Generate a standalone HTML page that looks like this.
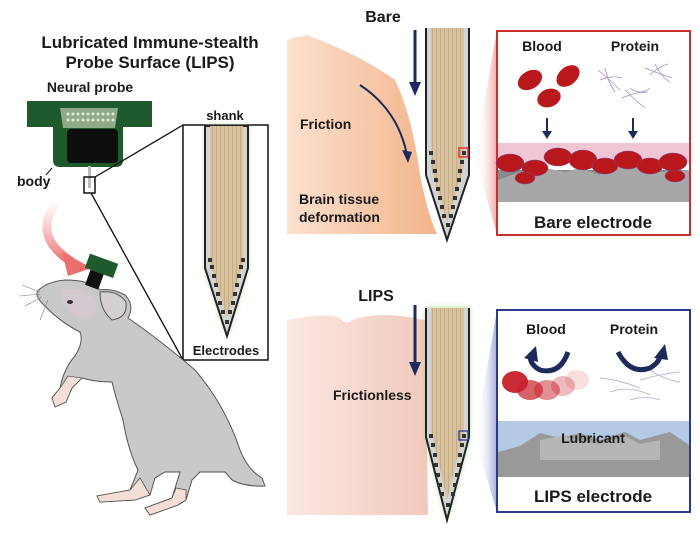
<!DOCTYPE html>
<html><head><meta charset="utf-8"><style>
html,body{margin:0;padding:0;background:#fff}
svg{display:block}
text{font-family:"Liberation Sans",Arial,sans-serif;font-weight:bold;fill:#1a1a1a}
</style></head><body>
<svg width="700" height="535" viewBox="0 0 700 535" xmlns="http://www.w3.org/2000/svg">
<defs>
<linearGradient id="peach" x1="0" x2="1" y1="0" y2="0">
<stop offset="0" stop-color="#fbe1cf"/><stop offset="1" stop-color="#f2b48a"/></linearGradient>
<linearGradient id="pink" x1="0" x2="1" y1="0" y2="0">
<stop offset="0" stop-color="#fbe8e2"/><stop offset="1" stop-color="#f1c9bb"/></linearGradient>
<linearGradient id="redw" x1="0" x2="1"><stop offset="0" stop-color="#fff" stop-opacity="0"/><stop offset="1" stop-color="#e04a4a" stop-opacity=".8"/></linearGradient>
<linearGradient id="bluew" x1="0" x2="1"><stop offset="0" stop-color="#fff" stop-opacity="0"/><stop offset="1" stop-color="#4a56b0" stop-opacity=".85"/></linearGradient>
<linearGradient id="rarrow" x1="0" y1="0" x2="0" y2="1"><stop offset="0" stop-color="#f6a3a3" stop-opacity="0"/><stop offset="1" stop-color="#ec6f6f"/></linearGradient>
<pattern id="stripes" width="4" height="10" patternUnits="userSpaceOnUse"><rect width="4" height="10" fill="#d6c29f"/><rect width="1" height="10" fill="#c4ad86"/></pattern>
<filter id="glow"><feGaussianBlur stdDeviation="3"/></filter>
</defs>

<text x="150" y="48" font-size="17" text-anchor="middle">Lubricated Immune-stealth</text>
<text x="150" y="68" font-size="17" text-anchor="middle">Probe Surface (LIPS)</text>
<text x="90" y="92" font-size="14" text-anchor="middle">Neural probe</text>

<rect x="27" y="101" width="125" height="26" fill="#1f5a2c"/>
<path d="M53 127 H123 V160 Q123 167 116 167 H60 Q53 167 53 160 Z" fill="#1f5a2c"/>
<rect x="67" y="129" width="51" height="34" rx="4" fill="#0d0d0d"/>
<path d="M60 108 H118 L115 128 H63 Z" fill="#8eaa86"/>
<g fill="#dfe8da">
<circle cx="68" cy="114" r="1.5"/><circle cx="73" cy="114" r="1.5"/><circle cx="78" cy="114" r="1.5"/><circle cx="83" cy="114" r="1.5"/><circle cx="88" cy="114" r="1.5"/><circle cx="93" cy="114" r="1.5"/><circle cx="98" cy="114" r="1.5"/><circle cx="103" cy="114" r="1.5"/><circle cx="108" cy="114" r="1.5"/><circle cx="113" cy="114" r="1.5"/>
<circle cx="68" cy="120" r="1.5"/><circle cx="73" cy="120" r="1.5"/><circle cx="78" cy="120" r="1.5"/><circle cx="83" cy="120" r="1.5"/><circle cx="88" cy="120" r="1.5"/><circle cx="93" cy="120" r="1.5"/><circle cx="98" cy="120" r="1.5"/><circle cx="103" cy="120" r="1.5"/><circle cx="108" cy="120" r="1.5"/><circle cx="113" cy="120" r="1.5"/>
</g>
<rect x="88" y="166" width="3" height="22" fill="#bbb"/>
<rect x="84" y="177" width="11" height="16" fill="none" stroke="#111" stroke-width="1.5"/>
<text x="17" y="186" font-size="14">body</text>
<line x1="52" y1="168" x2="46" y2="175" stroke="#111" stroke-width="1"/>
<line x1="95" y1="177" x2="183" y2="125" stroke="#111" stroke-width="1.3"/>
<line x1="91" y1="193" x2="183" y2="360" stroke="#111" stroke-width="1.3"/>

<rect x="183" y="125" width="85" height="235" fill="#fff" stroke="#111" stroke-width="1.5"/>
<text x="225" y="120" font-size="13" text-anchor="middle">shank</text>
<path d="M205 126 V268 L227 336 L248 268 V126 Z" fill="#b9dca0" filter="url(#glow)"/>
<path d="M205 126 V268 L227 336 L248 268 V126 Z" fill="#d4d4d4" stroke="#222" stroke-width="2"/>
<path d="M210 126 V262 L227 318 L243 262 V126 Z" fill="url(#stripes)"/>
<g fill="#333">
<rect x="208" y="258" width="4" height="4"/><rect x="241" y="258" width="4" height="4"/>
<rect x="210" y="265" width="4" height="4"/><rect x="239" y="265" width="4" height="4"/>
<rect x="212" y="274" width="4" height="4"/><rect x="237" y="274" width="4" height="4"/>
<rect x="214" y="283" width="4" height="4"/><rect x="235" y="283" width="4" height="4"/>
<rect x="216" y="292" width="4" height="4"/><rect x="233" y="292" width="4" height="4"/>
<rect x="218" y="301" width="4" height="4"/><rect x="231" y="301" width="4" height="4"/>
<rect x="221" y="310" width="4" height="4"/><rect x="228" y="310" width="4" height="4"/>
<rect x="225" y="320" width="4" height="4"/>
</g>
<text x="226" y="355" font-size="13" text-anchor="middle">Electrodes</text>

<path d="M58 200 Q30 235 72 262" fill="none" stroke="url(#rarrow)" stroke-width="9"/>
<path d="M62 252 L92 268 L68 276 Z" fill="#ec6f6f"/>

<!-- Mouse -->
<path d="M37 292 Q45 282 65 280 Q90 280 100 290 Q112 288 125 295 Q135 305 128 318 Q160 340 195 370 Q225 405 240 450 Q248 470 262 478 L265 486 Q245 487 232 480 L225 472 L200 472 L192 480 L186 500 L178 505 L150 515 L145 508 L172 498 L180 472 L165 472 L155 478 L150 495 L135 500 L100 502 L97 496 L130 490 L138 470 Q128 450 123 420 Q115 395 112 382 Q95 382 82 378 L72 388 L66 402 L55 407 L52 398 L60 388 Q64 368 75 356 Q84 342 80 332 Q60 322 45 306 Q36 298 37 292 Z" fill="#c9c9c9" stroke="#555" stroke-width="1"/>
<path d="M100 292 Q118 290 126 302 Q128 318 112 320 Q100 310 100 292 Z" fill="#d4d0d2" stroke="#555" stroke-width="1"/>
<path d="M62 290 Q80 286 95 298 Q100 315 88 320 Q70 318 62 300 Z" fill="#d8c9d3" opacity=".8"/>
<ellipse cx="70" cy="302" rx="3" ry="2" fill="#333"/>
<path d="M150 495 L135 500 L100 502 L97 496 L130 490 L140 478 Z" fill="#f4dfd6" stroke="#555" stroke-width=".8"/>
<path d="M186 490 L186 500 L178 505 L150 515 L145 508 L172 498 L176 488 Z" fill="#f4dfd6" stroke="#555" stroke-width=".8"/>
<path d="M82 378 L72 388 L66 402 L55 407 L52 398 L60 388 L68 376 Z" fill="#f4dfd6" stroke="#555" stroke-width=".8"/>
<g transform="rotate(20 100 270)"><rect x="85" y="258" width="30" height="15" fill="#1f5a2c"/><rect x="91" y="273" width="14" height="16" fill="#111"/></g>
<g stroke="#777" stroke-width=".6" fill="none"><path d="M40 292 L22 285"/><path d="M40 294 L20 296"/><path d="M42 297 L25 306"/><path d="M48 300 L40 320"/></g>

<text x="383" y="22" font-size="16" text-anchor="middle">Bare</text>
<path d="M287 40 L292 38 L308 35 L312 37 Q360 55 395 80 Q412 115 420 175 Q428 215 437 234 L287 234 Z" fill="url(#peach)"/>
<line x1="415" y1="30" x2="415" y2="85" stroke="#1c2a5c" stroke-width="3"/>
<path d="M409 82 L421 82 L415 96 Z" fill="#1c2a5c"/>
<path d="M360 85 Q398 110 407 155" fill="none" stroke="#1c2a5c" stroke-width="2"/>
<path d="M402 150 L412 152 L408 163 Z" fill="#1c2a5c"/>
<text x="300" y="129" font-size="14">Friction</text>
<text x="299" y="204" font-size="14">Brain tissue</text>
<text x="299" y="222" font-size="14">deformation</text>

<path d="M426 28 V175 L447 240 L469 175 V28" fill="#d4d4d4" stroke="#222" stroke-width="2"/>
<path d="M431 28 V168 L447 222 L464 168 V28 Z" fill="url(#stripes)"/>
<g fill="#333">
<rect x="429" y="151" width="4" height="4"/><rect x="462" y="151" width="4" height="4"/>
<rect x="431" y="160" width="4" height="4"/><rect x="460" y="160" width="4" height="4"/>
<rect x="433" y="169" width="4" height="4"/><rect x="458" y="169" width="4" height="4"/>
<rect x="434" y="178" width="4" height="4"/><rect x="457" y="178" width="4" height="4"/>
<rect x="436" y="187" width="4" height="4"/><rect x="455" y="187" width="4" height="4"/>
<rect x="438" y="196" width="4" height="4"/><rect x="453" y="196" width="4" height="4"/>
<rect x="440" y="205" width="4" height="4"/><rect x="451" y="205" width="4" height="4"/>
<rect x="442" y="214" width="4" height="4"/><rect x="449" y="214" width="4" height="4"/>
<rect x="446" y="223" width="4" height="4"/>
</g>
<rect x="459" y="148" width="9" height="9" fill="none" stroke="#d22" stroke-width="1.3"/>
<path d="M476 150 L497 30 L497 235 L476 160 Z" fill="url(#redw)" opacity=".6"/>

<rect x="497" y="31" width="193" height="204" fill="#fff" stroke="#c9302c" stroke-width="2"/>
<text x="542" y="51" font-size="14" text-anchor="middle">Blood</text>
<text x="635" y="51" font-size="14" text-anchor="middle">Protein</text>
<g fill="#b8181c"><ellipse cx="530" cy="80" rx="13" ry="9" transform="rotate(-30 530 80)"/><ellipse cx="568" cy="76" rx="13" ry="9" transform="rotate(-40 568 76)"/><ellipse cx="549" cy="98" rx="12" ry="9" transform="rotate(-20 549 98)"/></g>
<g stroke="#a58ec4" stroke-width=".8" fill="none">
<path d="M598 70 Q610 80 620 90 M600 80 Q612 75 622 78 M605 68 Q608 82 615 92"/>
<path d="M645 68 Q660 74 672 78 M650 75 Q660 66 668 64 M655 64 Q662 78 670 82"/>
<path d="M622 98 Q635 92 648 92 M625 90 Q635 100 645 108 M630 88 Q640 96 650 88"/>
</g>
<line x1="547" y1="118" x2="547" y2="133" stroke="#1c2a5c" stroke-width="2"/><path d="M542 131 L552 131 L547 139 Z" fill="#1c2a5c"/>
<line x1="633" y1="118" x2="633" y2="133" stroke="#1c2a5c" stroke-width="2"/><path d="M628 131 L638 131 L633 139 Z" fill="#1c2a5c"/>
<rect x="498" y="143" width="191" height="20" fill="#f0c6d4"/>
<rect x="498" y="170" width="191" height="32" fill="#8a8a8a"/>
<path d="M498 180 L520 172 L535 175 L545 168 L565 172 L580 168 L600 175 L620 160 L640 168 L660 172 L689 170 V202 H498 Z" fill="#a7a7a7"/>
<g fill="#b8181c" stroke="#7a4d9c" stroke-width=".5">
<ellipse cx="510" cy="163" rx="14" ry="9"/><ellipse cx="535" cy="168" rx="13" ry="8"/><ellipse cx="558" cy="157" rx="14" ry="9"/><ellipse cx="583" cy="160" rx="14" ry="10"/><ellipse cx="605" cy="166" rx="13" ry="8"/><ellipse cx="628" cy="160" rx="14" ry="9"/><ellipse cx="650" cy="166" rx="13" ry="8"/><ellipse cx="673" cy="162" rx="14" ry="9"/><ellipse cx="525" cy="178" rx="10" ry="6"/><ellipse cx="675" cy="176" rx="10" ry="6"/>
</g>
<text x="593" y="228" font-size="17" text-anchor="middle">Bare electrode</text>

<text x="376" y="301" font-size="16" text-anchor="middle">LIPS</text>
<path d="M287 320 Q330 312 340 318 Q346 326 352 320 Q380 310 425 320 L428 515 L287 515 Z" fill="url(#pink)"/>
<line x1="415" y1="305" x2="415" y2="365" stroke="#1c2a5c" stroke-width="3"/>
<path d="M409 362 L421 362 L415 376 Z" fill="#1c2a5c"/>
<text x="333" y="400" font-size="14">Frictionless</text>

<path d="M426 308 V437 L447 520 L469 437 V308 Z" fill="#a6d88a" filter="url(#glow)"/>
<path d="M426 308 V437 L447 520 L469 437 V308" fill="#d4d4d4" stroke="#222" stroke-width="2"/>
<path d="M431 308 V430 L447 500 L464 430 V308 Z" fill="url(#stripes)"/>
<g fill="#333">
<rect x="429" y="434" width="4" height="4"/><rect x="462" y="434" width="4" height="4"/>
<rect x="431" y="443" width="4" height="4"/><rect x="460" y="443" width="4" height="4"/>
<rect x="433" y="453" width="4" height="4"/><rect x="458" y="453" width="4" height="4"/>
<rect x="434" y="463" width="4" height="4"/><rect x="457" y="463" width="4" height="4"/>
<rect x="436" y="473" width="4" height="4"/><rect x="455" y="473" width="4" height="4"/>
<rect x="438" y="483" width="4" height="4"/><rect x="453" y="483" width="4" height="4"/>
<rect x="440" y="492" width="4" height="4"/><rect x="451" y="492" width="4" height="4"/>
<rect x="446" y="503" width="4" height="4"/>
</g>
<rect x="459" y="431" width="9" height="9" fill="none" stroke="#2b3a8c" stroke-width="1.3"/>
<path d="M476 432 L497 310 L497 512 L476 442 Z" fill="url(#bluew)" opacity=".6"/>

<rect x="497" y="310" width="193" height="202" fill="#fff" stroke="#2b3a8c" stroke-width="2"/>
<text x="546" y="334" font-size="14" text-anchor="middle">Blood</text>
<text x="634" y="334" font-size="14" text-anchor="middle">Protein</text>
<path d="M568 352 Q560 375 540 370 Q530 365 530 355" fill="none" stroke="#1c2a5c" stroke-width="5"/>
<path d="M524 358 L536 346 L538 362 Z" fill="#1c2a5c"/>
<path d="M618 352 Q630 375 650 368 Q660 362 660 355" fill="none" stroke="#1c2a5c" stroke-width="5"/>
<path d="M654 358 L665 344 L668 360 Z" fill="#1c2a5c"/>
<g fill="#c8202a"><ellipse cx="515" cy="382" rx="13" ry="11" opacity=".95"/><ellipse cx="530" cy="390" rx="13" ry="10" opacity=".7"/><ellipse cx="547" cy="390" rx="13" ry="10" opacity=".5"/><ellipse cx="563" cy="386" rx="12" ry="10" opacity=".3"/><ellipse cx="577" cy="380" rx="12" ry="10" opacity=".15"/></g>
<g stroke="#a58ec4" stroke-width=".8" fill="none" opacity=".8">
<path d="M600 378 Q620 380 640 388 M610 392 Q630 385 650 395 M640 380 Q660 374 680 372 M650 370 Q665 380 680 382 M630 400 Q645 395 660 400"/>
</g>
<rect x="498" y="421" width="191" height="55" fill="#b4c9e4"/>
<path d="M498 452 L520 446 L540 433 L560 438 L580 433 L600 440 L625 432 L640 440 L670 432 L689 445 V477 H498 Z" fill="#999"/>
<path d="M540 440 L560 436 L580 440 L600 444 L625 436 L640 444 L660 440 V460 H540 Z" fill="#b5b5b5"/>
<text x="593" y="443" font-size="14" text-anchor="middle">Lubricant</text>
<text x="593" y="502" font-size="17" text-anchor="middle">LIPS electrode</text>
</svg>
</body></html>
